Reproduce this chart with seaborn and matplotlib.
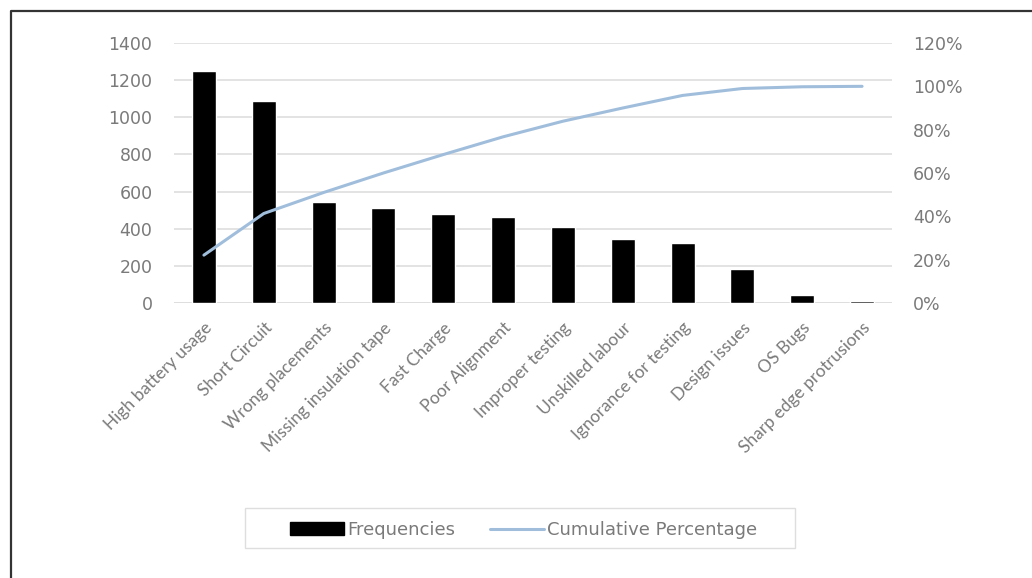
import numpy as np
import pandas as pd
import matplotlib
matplotlib.use("Agg")
import matplotlib.pyplot as plt
from matplotlib.patches import Patch, Rectangle
from matplotlib.lines import Line2D
from matplotlib.ticker import FuncFormatter
import seaborn as sns

categories = ["High battery usage", "Short Circuit", "Wrong placements",
              "Missing insulation tape", "Fast Charge", "Poor Alignment",
              "Improper testing", "Unskilled labour", "Ignorance for testing",
              "Design issues", "OS Bugs", "Sharp edge protrusions"]
frequencies = [1250, 1090, 545, 510, 480, 465, 410, 345, 325, 185, 45, 10]
cumulative_pct = [22.1, 41.3, 51.0, 60.0, 68.5, 76.7, 83.9, 90.0, 95.8, 99.0, 99.8, 100.0]
left_ticks = [0, 200, 400, 600, 800, 1000, 1200, 1400]
right_ticks = [0, 20, 40, 60, 80, 100, 120]

sns.set_theme(style="white")
plt.rcParams['font.family'] = ['DejaVu Sans']

TXT = "#7a7a7a"
GRID = "#dedede"
LINE = "#a0bedc"

fig = plt.figure(figsize=(10.32, 5.78), dpi=100)
fig.patch.set_facecolor("white")
W, H = 1032, 578
ax = fig.add_axes([174 / W, 1 - 303 / H, (892 - 174) / W, (303 - 43) / H])

df = pd.DataFrame({"cat": categories, "freq": frequencies})
sns.barplot(data=df, x="cat", y="freq", color="black", width=0.4, ax=ax,
            saturation=1, order=categories)
ax.set_ylim(0, 1400)
ax.set_yticks(left_ticks)
ax.set_xlim(-0.5, len(categories) - 0.5)
ax.set_xlabel("")
ax.set_ylabel("")
ax.yaxis.grid(True, color=GRID, linewidth=1.2)
ax.set_axisbelow(True)
for s in ax.spines.values():
    s.set_visible(False)
ax.axhline(0, color=GRID, linewidth=1.2, zorder=0.5)
ax.tick_params(axis="y", colors=TXT, labelsize=12.5, length=0, pad=15.5)
ax.tick_params(axis="x", colors=TXT, length=0, pad=12)
for lab in ax.get_xticklabels():
    lab.set_rotation(45)
    lab.set_ha("right")
    lab.set_rotation_mode("anchor")
    lab.set_family(['Lato', 'DejaVu Sans'])
    lab.set_fontsize(12.5)

ax2 = ax.twinx()
sns.lineplot(x=np.arange(len(categories)), y=cumulative_pct, ax=ax2,
             color=LINE, linewidth=2.2)
ax2.set_ylim(0, 120)
ax2.set_yticks(right_ticks)
ax2.yaxis.set_major_formatter(FuncFormatter(lambda v, p: f"{int(v)}%"))
ax2.tick_params(axis="y", colors=TXT, labelsize=12.5, length=0, pad=15)
for s in ax2.spines.values():
    s.set_visible(False)
ax2.set_ylabel("")

# Legend
handles = [Patch(facecolor="black", edgecolor="black", label="Frequencies"),
           Line2D([0], [0], color=LINE, linewidth=2.2, label="Cumulative Percentage")]
fig.legend(handles=handles, loc="center", bbox_to_anchor=(523.5 / W, 1 - 530 / H),
           ncol=2, frameon=False, fontsize=13, labelcolor=TXT,
           handlelength=3.0, handletextpad=0.2, columnspacing=1.9)
fig.add_artist(Rectangle((245 / W, 1 - 548 / H), (795 - 245) / W, (548 - 508) / H,
                         transform=fig.transFigure, facecolor="none",
                         edgecolor=GRID, linewidth=1.0))

# Outer border (top and left)
fig.add_artist(Line2D([10.5 / W, 10.5 / W, 1.0], [0.0, 1 - 11 / H, 1 - 11 / H],
                      transform=fig.transFigure, color="#333333", linewidth=1.6))

fig.savefig("out.png", dpi=100)
